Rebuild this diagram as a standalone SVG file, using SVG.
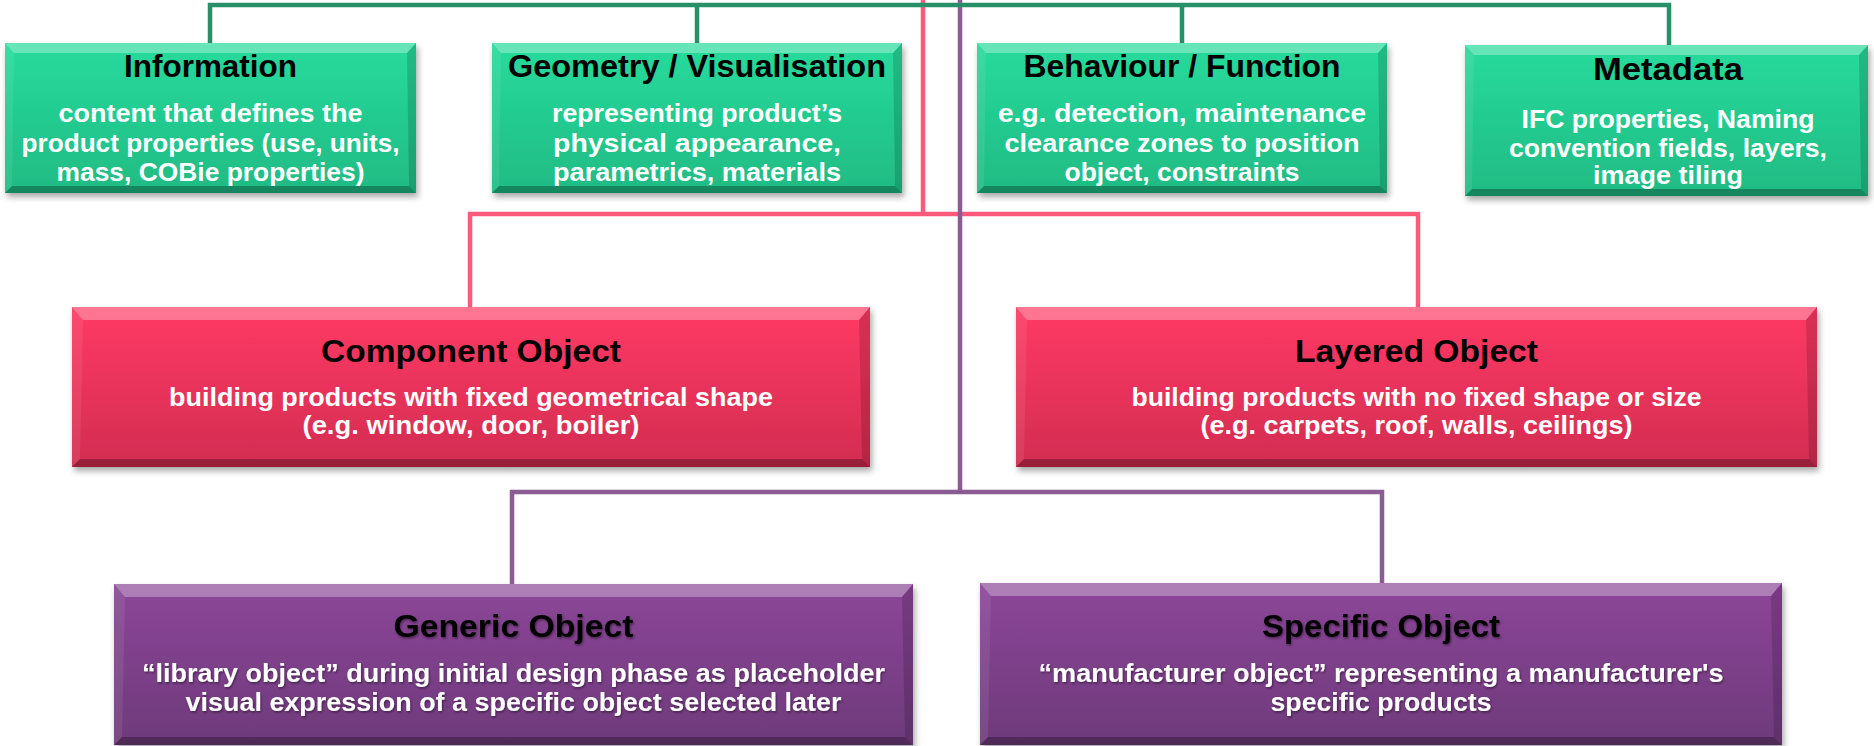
<svg xmlns="http://www.w3.org/2000/svg" width="1874" height="746" viewBox="0 0 1874 746">
<defs>
  <linearGradient id="gGreen" x1="0" y1="0" x2="0" y2="1">
    <stop offset="0" stop-color="#28db9c"/>
    <stop offset="1" stop-color="#1fbb84"/>
  </linearGradient>
  <linearGradient id="gPink" x1="0" y1="0" x2="0" y2="1">
    <stop offset="0" stop-color="#ff3a64"/>
    <stop offset="1" stop-color="#d22c51"/>
  </linearGradient>
  <linearGradient id="gPurple" x1="0" y1="0" x2="0" y2="1">
    <stop offset="0" stop-color="#8c4698"/>
    <stop offset="1" stop-color="#6e3a7b"/>
  </linearGradient>
  <filter id="shadow" x="-5%" y="-10%" width="110%" height="130%">
    <feDropShadow dx="2" dy="4" stdDeviation="3" flood-color="#000" flood-opacity="0.35"/>
  </filter>
  <filter id="tshadow" x="-5%" y="-20%" width="110%" height="150%">
    <feDropShadow dx="1" dy="1.5" stdDeviation="1" flood-color="#000" flood-opacity="0.45"/>
  </filter>
</defs>
<style>
  .green { fill: url(#gGreen); }
  .pink { fill: url(#gPink); }
  .purple { fill: url(#gPurple); }
  .bt { fill: #ffffff; fill-opacity: 0.3; }
  .bb { fill: #000000; fill-opacity: 0.28; }
  .bl { fill: #ffffff; fill-opacity: 0.08; }
  .br { fill: #000000; fill-opacity: 0.15; }
  .title { font-family: "Liberation Sans", Arial, sans-serif; font-weight: bold; font-size: 31px; fill: #000; text-anchor: middle; }
  .body { font-family: "Liberation Sans", Arial, sans-serif; font-weight: bold; font-size: 26px; fill: #fff; text-anchor: middle; }
  .ts { filter: url(#tshadow); }
  .cg { fill: none; stroke: #279068; stroke-width: 4.5; }
  .cp { fill: none; stroke: #ff5a7b; stroke-width: 4.5; }
  .cv { fill: none; stroke: #8a5c93; stroke-width: 4.5; }
</style>

<g id="connectors">
  <path class="cp" d="M923,0 V214 M470,307 V214 H1418 V307"/>
  <path class="cv" d="M960,0 V492 M512,584 V492 H1382 V584"/>
  <path class="cg" d="M210,43 V5 H1669 V45 M697,5 V43 M1182,5 V43"/>
</g>

<g id="information">
  <g filter="url(#shadow)">
    <rect class="green" x="5" y="43" width="411" height="150"/>
  </g>
  <polygon class="bt" points="5,43 416,43 407,53 14,53"/>
  <polygon class="bb" points="5,193 416,193 409,186 12,186"/>
  <polygon class="bl" points="5,43 14,53 12,186 5,193"/>
  <polygon class="br" points="416,43 407,53 409,186 416,193"/>
  <text class="title" x="210.5" y="77" textLength="173" lengthAdjust="spacingAndGlyphs">Information</text>
  <text class="body" x="210.5" y="122" textLength="304" lengthAdjust="spacingAndGlyphs">content that defines the</text>
  <text class="body" x="210.5" y="152" textLength="378" lengthAdjust="spacingAndGlyphs">product properties (use, units,</text>
  <text class="body" x="210.5" y="181" textLength="308" lengthAdjust="spacingAndGlyphs">mass, COBie properties)</text>
</g>

<g id="geometry">
  <g filter="url(#shadow)">
    <rect class="green" x="492" y="43" width="410" height="150"/>
  </g>
  <polygon class="bt" points="492,43 902,43 893,53 501,53"/>
  <polygon class="bb" points="492,193 902,193 895,186 499,186"/>
  <polygon class="bl" points="492,43 501,53 499,186 492,193"/>
  <polygon class="br" points="902,43 893,53 895,186 902,193"/>
  <text class="title" x="697" y="77" textLength="378" lengthAdjust="spacingAndGlyphs">Geometry / Visualisation</text>
  <text class="body" x="697" y="122" textLength="290" lengthAdjust="spacingAndGlyphs">representing product’s</text>
  <text class="body" x="697" y="152" textLength="288" lengthAdjust="spacingAndGlyphs">physical appearance,</text>
  <text class="body" x="697" y="181" textLength="288" lengthAdjust="spacingAndGlyphs">parametrics, materials</text>
</g>

<g id="behaviour">
  <g filter="url(#shadow)">
    <rect class="green" x="977" y="43" width="410" height="150"/>
  </g>
  <polygon class="bt" points="977,43 1387,43 1378,53 986,53"/>
  <polygon class="bb" points="977,193 1387,193 1380,186 984,186"/>
  <polygon class="bl" points="977,43 986,53 984,186 977,193"/>
  <polygon class="br" points="1387,43 1378,53 1380,186 1387,193"/>
  <text class="title" x="1182" y="77" textLength="317" lengthAdjust="spacingAndGlyphs">Behaviour / Function</text>
  <text class="body" x="1182" y="122" textLength="368" lengthAdjust="spacingAndGlyphs">e.g. detection, maintenance</text>
  <text class="body" x="1182" y="152" textLength="355" lengthAdjust="spacingAndGlyphs">clearance zones to position</text>
  <text class="body" x="1182" y="181" textLength="235" lengthAdjust="spacingAndGlyphs">object, constraints</text>
</g>

<g id="metadata">
  <g filter="url(#shadow)">
    <rect class="green" x="1465" y="45" width="403" height="151"/>
  </g>
  <polygon class="bt" points="1465,45 1868,45 1859,55 1474,55"/>
  <polygon class="bb" points="1465,196 1868,196 1861,189 1472,189"/>
  <polygon class="bl" points="1465,45 1474,55 1472,189 1465,196"/>
  <polygon class="br" points="1868,45 1859,55 1861,189 1868,196"/>
  <text class="title" x="1668" y="80" textLength="150" lengthAdjust="spacingAndGlyphs">Metadata</text>
  <text class="body" x="1668" y="128" textLength="293" lengthAdjust="spacingAndGlyphs">IFC properties, Naming</text>
  <text class="body" x="1668" y="157" textLength="318" lengthAdjust="spacingAndGlyphs">convention fields, layers,</text>
  <text class="body" x="1668" y="184" textLength="150" lengthAdjust="spacingAndGlyphs">image tiling</text>
</g>

<g id="component">
  <g filter="url(#shadow)">
    <rect class="pink" x="72" y="307" width="798" height="160"/>
  </g>
  <polygon class="bt" points="72,307 870,307 859,320 83,320"/>
  <polygon class="bb" points="72,467 870,467 862,459 80,459"/>
  <polygon class="bl" points="72,307 83,320 80,459 72,467"/>
  <polygon class="br" points="870,307 859,320 862,459 870,467"/>
  <text class="title" x="471" y="362" textLength="300" lengthAdjust="spacingAndGlyphs">Component Object</text>
  <text class="body" x="471" y="406" textLength="604" lengthAdjust="spacingAndGlyphs">building products with fixed geometrical shape</text>
  <text class="body" x="471" y="434" textLength="337" lengthAdjust="spacingAndGlyphs">(e.g. window, door, boiler)</text>
</g>

<g id="layered">
  <g filter="url(#shadow)">
    <rect class="pink" x="1016" y="307" width="801" height="160"/>
  </g>
  <polygon class="bt" points="1016,307 1817,307 1806,320 1027,320"/>
  <polygon class="bb" points="1016,467 1817,467 1809,459 1024,459"/>
  <polygon class="bl" points="1016,307 1027,320 1024,459 1016,467"/>
  <polygon class="br" points="1817,307 1806,320 1809,459 1817,467"/>
  <text class="title" x="1416.5" y="362" textLength="243" lengthAdjust="spacingAndGlyphs">Layered Object</text>
  <text class="body" x="1416.5" y="406" textLength="570" lengthAdjust="spacingAndGlyphs">building products with no fixed shape or size</text>
  <text class="body" x="1416.5" y="434" textLength="432" lengthAdjust="spacingAndGlyphs">(e.g. carpets, roof, walls, ceilings)</text>
</g>

<g id="generic">
  <g filter="url(#shadow)">
    <rect class="purple" x="114" y="584" width="799" height="161"/>
  </g>
  <polygon class="bt" points="114,584 913,584 902,597 125,597"/>
  <polygon class="bb" points="114,745 913,745 905,737 122,737"/>
  <polygon class="bl" points="114,584 125,597 122,737 114,745"/>
  <polygon class="br" points="913,584 902,597 905,737 913,745"/>
  <text class="title ts" x="513.5" y="637" textLength="240" lengthAdjust="spacingAndGlyphs">Generic Object</text>
  <text class="body ts" x="513.5" y="682" textLength="743" lengthAdjust="spacingAndGlyphs">“library object” during initial design phase as placeholder</text>
  <text class="body ts" x="513.5" y="711" textLength="656" lengthAdjust="spacingAndGlyphs">visual expression of a specific object selected later</text>
</g>

<g id="specific">
  <g filter="url(#shadow)">
    <rect class="purple" x="980" y="583" width="802" height="162"/>
  </g>
  <polygon class="bt" points="980,583 1782,583 1771,596 991,596"/>
  <polygon class="bb" points="980,745 1782,745 1774,737 988,737"/>
  <polygon class="bl" points="980,583 991,596 988,737 980,745"/>
  <polygon class="br" points="1782,583 1771,596 1774,737 1782,745"/>
  <text class="title ts" x="1381" y="637" textLength="238" lengthAdjust="spacingAndGlyphs">Specific Object</text>
  <text class="body ts" x="1381" y="682" textLength="685" lengthAdjust="spacingAndGlyphs">“manufacturer object” representing a manufacturer's</text>
  <text class="body ts" x="1381" y="711" textLength="221" lengthAdjust="spacingAndGlyphs">specific products</text>
</g>
</svg>
